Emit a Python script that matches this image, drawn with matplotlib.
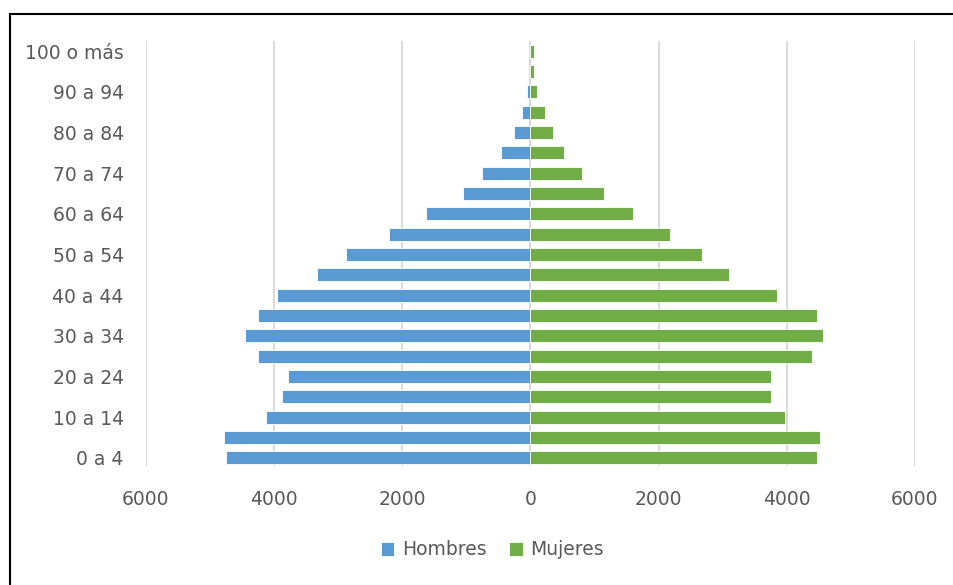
import numpy as np
import matplotlib.pyplot as plt
from matplotlib.lines import Line2D

# age groups from youngest (bottom) to oldest (top)
grupos = [f"{i} a {i + 4}" for i in range(0, 100, 5)] + ["100 o más"]
hombres = [4750, 4790, 4120, 3870, 3790, 4250, 4460, 4250, 3960, 3330,
           2880, 2210, 1630, 1050, 755, 465, 258, 132, 50, 0, 0]
mujeres = [4470, 4510, 3970, 3760, 3760, 4390, 4560, 4470, 3840, 3100,
           2680, 2180, 1600, 1150, 810, 530, 355, 230, 105, 50, 50]
xticks = [-6000, -4000, -2000, 0, 2000, 4000, 6000]

AZUL = "#5B9BD5"
VERDE = "#70AD47"
GRIS = "#595959"

fig = plt.figure(figsize=(9.54, 5.85), dpi=100)
ax = fig.add_axes([146 / 954, 1 - 466 / 585, (915 - 146) / 954, (466 - 41) / 585])

y = np.arange(len(grupos))
ax.barh(y, -np.array(hombres), height=0.64, color=AZUL, edgecolor="white",
        linewidth=0.6, label="Hombres", zorder=3)
ax.barh(y, mujeres, height=0.64, color=VERDE, edgecolor="white",
        linewidth=0.6, label="Mujeres", zorder=3)

ax.set_xlim(-6000, 6000)
ax.set_ylim(-0.4, 20.5)
ax.set_xticks(xticks)
ax.set_xticklabels([str(abs(v)) for v in xticks])
ax.set_yticks(y[::2])
ax.set_yticklabels(grupos[::2])
ax.grid(axis="x", color="#D9D9D9", linewidth=1.4, zorder=0)
for s in ax.spines.values():
    s.set_visible(False)
ax.tick_params(axis="both", length=0, labelsize=13.5, labelcolor=GRIS)
ax.tick_params(axis="y", pad=16)
ax.tick_params(axis="x", pad=17)

fig.legend(loc="center", bbox_to_anchor=(0.516, 0.06), ncol=2, frameon=False,
           fontsize=13.5, labelcolor=GRIS, handlelength=0.72, handleheight=0.72,
           handletextpad=0.4, columnspacing=1.2)

# frame lines at left and top edge
fig.add_artist(Line2D([10 / 954, 10 / 954], [0, 1 - 14 / 585], color="black", linewidth=1.5))
fig.add_artist(Line2D([10 / 954, 1], [1 - 14 / 585, 1 - 14 / 585], color="black", linewidth=1.5))

fig.savefig("out.png", dpi=100)
